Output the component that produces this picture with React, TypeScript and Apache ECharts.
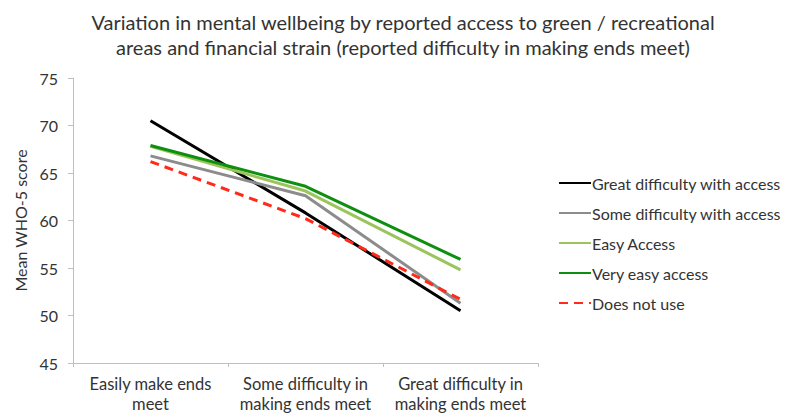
import React, { useEffect, useRef } from "react";
import * as echarts from "echarts";

const categories = [
  "Easily make ends\nmeet",
  "Some difficulty in\nmaking ends meet",
  "Great difficulty in\nmaking ends meet",
];
const greatDifficulty = [70.5, 60.8, 50.5];
const someDifficulty = [66.8, 62.6, 51.3];
const easyAccess = [67.8, 63.1, 54.8];
const veryEasyAccess = [67.9, 63.6, 55.9];
const doesNotUse = [66.2, 60.2, 51.7];
const yTicks = { min: 45, max: 75, interval: 5 };

const FONT = "Lato, 'Open Sans', sans-serif";

export default function App() {
  const ref = useRef<HTMLDivElement>(null);
  useEffect(() => {
    const chart = echarts.init(ref.current!, null, { renderer: "svg" });
    const mk = (name: string, data: number[], color: string, dashed = false) => ({
      name,
      type: "line",
      data,
      symbol: "none",
      showSymbol: false,
      lineStyle: { color, width: 3, type: dashed ? [9, 6] : "solid" },
      itemStyle: { color },
    });
    chart.setOption({
      animation: false,
      backgroundColor: "#ffffff",
      textStyle: { fontFamily: FONT },
      title: {
        text: "Variation in mental wellbeing by reported access to green / recreational\nareas and financial strain (reported difficulty in making ends meet)",
        left: 398,
        textAlign: "center",
        top: 4,
        textStyle: {
          fontFamily: FONT,
          fontSize: 20,
          fontWeight: "normal",
          color: "#333333",
          lineHeight: 25,
        },
      },
      grid: { left: 73, right: 248, top: 78, bottom: 52, containLabel: false },
      legend: {
        orient: "vertical",
        left: 558,
        top: 175,
        padding: 0,
        itemWidth: 32,
        itemHeight: 14,
        itemGap: 14,
        itemStyle: { opacity: 0 },
        textStyle: { fontFamily: FONT, fontSize: 16, color: "#333333", padding: [0, 0, 0, -4] },
        data: [
          "Great difficulty with access",
          "Some difficulty with access",
          "Easy Access",
          "Very easy access",
          "Does not use",
        ],
      },
      xAxis: {
        type: "category",
        data: categories,
        boundaryGap: true,
        axisLine: { lineStyle: { color: "#bfbfbf", width: 1 } },
        axisTick: { show: true, length: 4, lineStyle: { color: "#bfbfbf" } },
        axisLabel: {
          fontFamily: FONT,
          fontSize: 16.5,
          color: "#333333",
          lineHeight: 20,
          margin: 11,
          interval: 0,
        },
        splitLine: { show: false },
      },
      yAxis: {
        type: "value",
        min: yTicks.min,
        max: yTicks.max,
        interval: yTicks.interval,
        name: "Mean WHO-5 score",
        nameLocation: "middle",
        nameGap: 42,
        nameRotate: 90,
        nameTextStyle: { fontFamily: FONT, fontSize: 16, color: "#333333" },
        axisLine: { show: true, lineStyle: { color: "#bfbfbf", width: 1 } },
        axisTick: { show: true, length: 5, lineStyle: { color: "#bfbfbf" } },
        axisLabel: { fontFamily: FONT, fontSize: 16, color: "#333333", margin: 15 },
        splitLine: { show: false },
      },
      series: [
        mk("Great difficulty with access", greatDifficulty, "#000000"),
        mk("Some difficulty with access", someDifficulty, "#8c8c8c"),
        mk("Easy Access", easyAccess, "#9bc45a"),
        mk("Very easy access", veryEasyAccess, "#0f8f0f"),
        mk("Does not use", doesNotUse, "#ff2a1a", true),
      ],
    });
    return () => chart.dispose();
  }, []);
  return <div ref={ref} style={{ width: 786, height: 415, position: "absolute", left: 0, top: 0 }} />;
}
